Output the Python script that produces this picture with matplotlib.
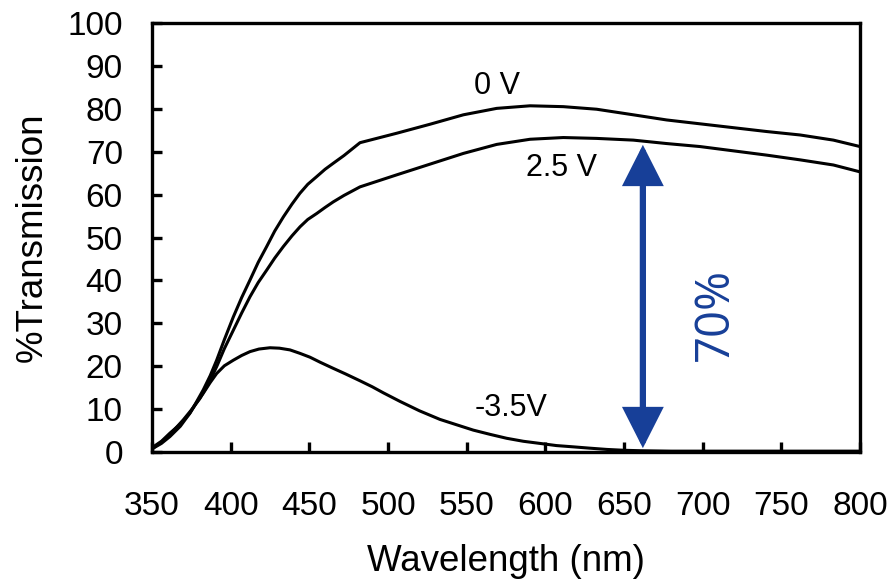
import matplotlib
matplotlib.use("Agg")
import matplotlib.pyplot as plt

plt.rcParams['font.family'] = ['Liberation Sans', 'DejaVu Sans']

# 0 V curve
wl_0 = [350.8, 356, 361.4, 368, 374, 378, 382.6, 387, 391.1, 396, 401.7, 407, 412.3, 417.5, 422.9,
        428, 433.5, 439, 444, 449, 454.7, 460, 465.2, 472, 482.2,
        505.5, 526.7, 547.9, 569.1, 590.3, 611.4, 632.6, 655.9, 677.1, 698.3, 719.5, 740.7, 761.9, 783.1, 800]
t_0 = [1.2, 2.5, 4.4, 6.5, 9.0, 11.5, 14.5, 17.8, 21.4, 26.2, 31.5, 36.0, 40.1, 44.2, 47.9,
       51.5, 54.8, 57.8, 60.3, 62.4, 64.2, 65.9, 67.3, 69.1, 72.1,
       74.3, 76.4, 78.6, 80.1, 80.7, 80.5, 79.9, 78.6, 77.4, 76.5, 75.6, 74.7, 73.9, 72.7, 71.2]

# 2.5 V curve
wl_25 = [350.8, 360, 369.9, 375, 380.5, 386, 391.1, 396, 401.7, 407, 412.3, 417.5, 422.9, 428,
         433.5, 439, 444.1, 449, 454.7, 460, 465.2, 472, 482.2,
         505.5, 526.7, 547.9, 569.1, 590.3, 611.4, 632.6, 655.9, 677.1, 698.3, 719.5, 740.7, 761.9, 783.1, 800]
t_25 = [0.9, 3.5, 7.5, 9.8, 12.5, 16.0, 19.9, 24.1, 28.4, 32.4, 36.2, 39.5, 42.4, 45.2,
        47.9, 50.4, 52.5, 54.2, 55.6, 57.0, 58.3, 59.8, 61.8,
        64.6, 67.1, 69.6, 71.7, 72.9, 73.3, 73.1, 72.7, 71.9, 71.2, 70.2, 69.2, 68.1, 66.9, 65.3]

# -3.5 V curve
wl_m35 = [350.8, 356, 361.4, 368, 374, 378, 382.6, 387, 391.1, 396, 401.7, 407, 412.3, 418, 425,
          431, 437.7, 444, 450.4, 457, 465.2, 473, 482.2, 490, 497, 507.6, 520, 533, 544, 554.2,
          565, 575.4, 586, 596.6, 607, 617.8, 628, 639, 650, 660.2, 680, 700, 750, 800]
t_m35 = [0.9, 2.0, 3.6, 6.0, 9.0, 11.3, 13.7, 16.2, 18.3, 20.1, 21.4, 22.5, 23.4, 24.0, 24.3,
         24.2, 23.8, 23.0, 22.1, 20.9, 19.5, 18.2, 16.6, 15.2, 13.8, 11.8, 9.6, 7.6, 6.3, 5.1,
         4.1, 3.2, 2.5, 2.0, 1.5, 1.2, 0.9, 0.6, 0.4, 0.3, 0.2, 0.2, 0.2, 0.2]

curve_labels = ["0 V", "2.5 V", "-3.5V"]
label_x = [569, 610, 578]
label_y = [85.3, 66.2, 10.3]

arrow_x = 662
arrow_lo = 0.9
arrow_hi = 71.6
arrow_text = "70%"

x_ticks = list(range(350, 801, 50))
y_ticks = list(range(0, 101, 10))

blue = '#173f98'

fig = plt.figure(figsize=(8.94, 5.84), dpi=100)
ax = fig.add_axes([152/894, 1-452/584, (860-152)/894, (452-23)/584])

for wl, t in [(wl_0, t_0), (wl_25, t_25), (wl_m35, t_m35)]:
    ax.plot(wl, t, color='black', lw=2.2, solid_joinstyle='round')

for s, lx, ly in zip(curve_labels, label_x, label_y):
    ax.text(lx, ly, s, fontsize=22, ha='center', va='center')

ax.annotate('', xy=(arrow_x, arrow_hi), xytext=(arrow_x, arrow_lo),
            arrowprops=dict(arrowstyle='<|-|>,head_length=0.75,head_width=0.38',
                            mutation_scale=30, color=blue, lw=4.5,
                            shrinkA=0, shrinkB=0, joinstyle='miter'))
ax.text(708, 32, arrow_text, fontsize=34, color=blue, rotation=90,
        ha='center', va='center', family=['Open Sans', 'DejaVu Sans'])

ax.set_xlim(350, 800)
ax.set_ylim(0, 100)
ax.set_xticks(x_ticks)
ax.set_yticks(y_ticks)
ax.tick_params(direction='in', length=7, width=2.4, labelsize=24)
ax.tick_params(axis='x', pad=28)
ax.tick_params(axis='y', pad=21)
for sp in ax.spines.values():
    sp.set_linewidth(2.4)

ax.set_xlabel('Wavelength (nm)', fontsize=26.5, labelpad=16)
ax.set_ylabel('%Transmission', fontsize=26.5, labelpad=13)

fig.savefig('out.png', dpi=100)
